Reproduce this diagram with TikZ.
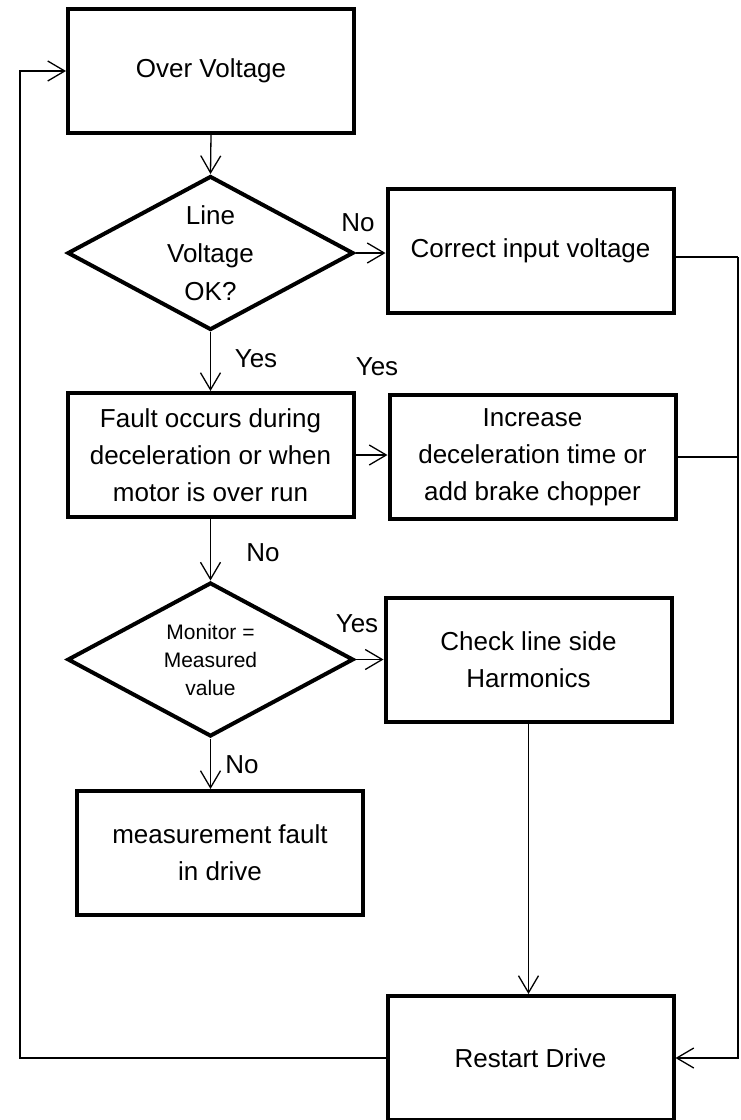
\documentclass[tikz,border=0pt]{standalone}
\usepackage{fontspec}
\setmainfont{Liberation Sans}
\usetikzlibrary{shapes.geometric,arrows.meta}

\begin{document}
\begin{tikzpicture}[x=1pt,y=-1pt,
	box/.style={draw, line width=4pt, minimum width=286pt, minimum height=124pt, inner sep=0pt, align=center, font=\fontsize{26}{37}\selectfont},
	decision/.style={draw, diamond, line width=4pt, minimum width=286pt, minimum height=154pt, aspect=1.86, inner sep=0pt, align=center},
	pile/.style={line width=1.3pt, -{Straight Barb[length=17pt,width=20pt]}},
	wire/.style={line width=1.3pt},
	lbl/.style={font=\fontsize{26}{37}\selectfont}]

	\useasboundingbox (0,0) rectangle (740,1120);

	% Boxes
	\node[box] (over) at (211,71) {Over Voltage};
	\node[box] (corr) at (530.5,251) {Correct input voltage};
	\node[box] (fault) at (210.5,455) {Fault occurs during\\deceleration or when\\motor is over run};
	\node[box] (incr) at (532.5,457) {Increase\\deceleration time or\\add brake chopper};
	\node[box] (check) at (528.5,659.5) {Check line side\\Harmonics};
	\node[box] (meas) at (220,853) {measurement fault\\in drive};
	\node[box] (restart) at (530.5,1058) {Restart Drive};

	% Decisions
	\node[decision, font=\fontsize{26}{38}\selectfont] (lineok) at (210.5,253) {Line\\Voltage\\OK?};
	\node[decision, font=\fontsize{21}{28}\selectfont] (monitor) at (210.5,659.5) {Monitor =\\Measured\\value};

	% Bus lines
	\coordinate (rbus) at (738,257);
	\coordinate (lbus) at (20,71);

	% Arrows
	\draw [pile] (over.south) -- (lineok.north);
	\draw [pile] (lineok.east) -- (lineok.east -| corr.west);
	\draw [pile] (lineok.south) -- (lineok.south |- fault.north);
	\draw [pile] (fault.east) -- (fault.east -| incr.west);
	\draw [pile] (fault.south) -- (fault.south -| monitor.north) -- (monitor.north);
	\draw [pile] (monitor.east) -- (monitor.east -| check.west);
	\draw [pile] (monitor.south) -- (monitor.south |- meas.north);
	\draw [pile] (check.south) -- (check.south |- restart.north);

	% Feedback right
	\draw [wire] ([yshift=-6pt]corr.east) -- (rbus);
	\draw [wire] (incr.east) -- (incr.east -| rbus);
	\draw [pile] (rbus) -- (rbus |- restart.east) -- (restart.east);

	% Feedback left
	\draw [pile] (restart.west) -- (restart.west -| lbus) -- (lbus) -- (over.west);

	% Labels
	\draw (358,223) node[lbl] (no1) {No};
	\draw (256,359) node[lbl] (yes1) {Yes};
	\draw (377,367) node[lbl] (yes2) {Yes};
	\draw (263,553) node[lbl] (no2) {No};
	\draw (357,624) node[lbl] (yes3) {Yes};
	\draw (242,765) node[lbl] (no3) {No};

\end{tikzpicture}
\end{document}
